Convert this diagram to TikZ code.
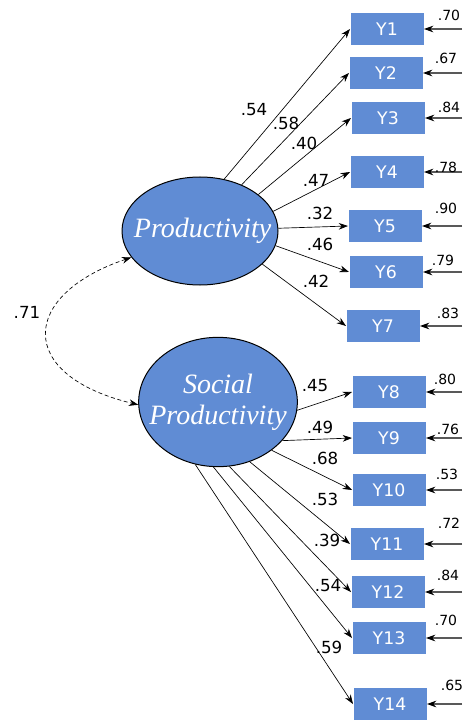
\documentclass[tikz,border=0pt]{standalone}
\usepackage{fontspec}
\setmainfont{DejaVu Sans}
\newfontfamily\lvfont{Liberation Serif}
\usetikzlibrary{arrows.meta,shapes.geometric}

\definecolor{boxblue}{RGB}{96,140,212}

\tikzset{every picture/.style={line width=0.75pt}}
\tikzset{
  ybox/.style={draw=none,fill=boxblue,minimum width=54.75pt,minimum height=24pt,inner sep=0pt,text=white,font=\fontsize{13}{15}\selectfont},
  latent/.style={ellipse,draw=black,fill=boxblue,inner sep=0pt},
  lvtext/.style={inner sep=0pt,text=white,align=center,font=\lvfont\itshape\fontsize{21}{23.5}\selectfont},
  load/.style={line width=0.5pt,-{Stealth[length=7pt,width=5pt]}},
  err/.style={line width=0.8pt,color=black!65,-{Stealth[length=7pt,width=5pt,color=black]}},
  coef/.style={inner sep=0pt,font=\fontsize{12.5}{14}\selectfont},
  ecoef/.style={inner sep=0pt,font=\fontsize{10.5}{12}\selectfont}
}

\begin{document}
\begin{tikzpicture}[x=0.75pt,y=0.75pt,yscale=-1,xscale=1]
\useasboundingbox (0,0) rectangle (462,720);

% Latent variables
\node [latent,minimum width=117pt,minimum height=81pt] (prod) at (200,231) {};
\node [lvtext] (prodtext) at ([xshift=2pt]prod.center) {Productivity};
\node [latent,minimum width=119pt,minimum height=97pt] (soc) at (218,402) {};
\node [lvtext] (soctext) at (soc.center) {Social\\Productivity};

% Indicators
\node [ybox] (y1) at (387,29) {Y1};
\node [ybox] (y2) at (386,73) {Y2};
\node [ybox] (y3) at (388,118) {Y3};
\node [ybox] (y4) at (387,172) {Y4};
\node [ybox] (y5) at (385,226) {Y5};
\node [ybox] (y6) at (386,272) {Y6};
\node [ybox] (y7) at (383,326) {Y7};
\node [ybox] (y8) at (389,392) {Y8};
\node [ybox] (y9) at (389,438) {Y9};
\node [ybox] (y10) at (389,490) {Y10};
\node [ybox] (y11) at (387,544) {Y11};
\node [ybox] (y12) at (388,592) {Y12};
\node [ybox] (y13) at (389,638) {Y13};
\node [ybox] (y14) at (390,704) {Y14};

% Loadings
\draw [load] (prod.65) -- (y1.west);
\draw [load] (prod.48) -- (y2.west);
\draw [load] (prod.32) -- (y3.west);
\draw [load] (prod.15) -- (y4.west);
\draw [load] (prod.2) -- (y5.west);
\draw [load] (prod.-11) -- (y6.west);
\draw [load] (prod.-28) -- (y7.west);
\draw [load] (soc.-6) -- (y8.west);
\draw [load] (soc.-31) -- (y9.west);
\draw [load] (soc.-42) -- (y10.west);
\draw [load] (soc.-62) -- (y11.west);
\draw [load] (soc.-80) -- (y12.west);
\draw [load] (soc.-94) -- (y13.west);
\draw [load] (soc.-110) -- (y14.west);

% Covariance
\draw [line width=0.5pt,densely dashed,{Stealth[length=7pt,width=5pt]}-{Stealth[length=7pt,width=5pt]}] (prod.201) .. controls (20,295) and (15,375) .. (soc.182);
\node [coef] (r) at (27,312) {.71};

% Error terms
\foreach \i/\yy in {1/29,2/73,3/118,4/172,5/226,6/272,7/326,8/392,9/438,10/490,11/544,12/592,13/638,14/704}{
  \coordinate (e\i) at (462,\yy);
  \draw [err] (e\i) -- (y\i.east);
}

% Loading values
\node [coef] (l1) at (254,110) {.54};
\node [coef] (l2) at (286,123) {.58};
\node [coef] (l3) at (304,143) {.40};
\node [coef] (l4) at (316,180) {.47};
\node [coef] (l5) at (320,213) {.32};
\node [coef] (l6) at (320,244) {.46};
\node [coef] (l7) at (316,281) {.42};
\node [coef] (l8) at (315,386) {.45};
\node [coef] (l9) at (320,427) {.49};
\node [coef] (l10) at (325,458) {.68};
\node [coef] (l11) at (325,499) {.53};
\node [coef] (l12) at (327,540) {.39};
\node [coef] (l13) at (328,586) {.54};
\node [coef] (l14) at (329,647) {.59};

% Error values
\node [ecoef] (v1) at (449,15) {.70};
\node [ecoef] (v2) at (446,58) {.67};
\node [ecoef] (v3) at (449,107) {.84};
\node [ecoef] (v4) at (446,167) {.78};
\node [ecoef] (v5) at (446,208) {.90};
\node [ecoef] (v6) at (443,260) {.79};
\node [ecoef] (v7) at (448,313) {.83};
\node [ecoef] (v8) at (445,379) {.80};
\node [ecoef] (v9) at (448,429) {.76};
\node [ecoef] (v10) at (447,474) {.53};
\node [ecoef] (v11) at (449,523) {.72};
\node [ecoef] (v12) at (448,575) {.84};
\node [ecoef] (v13) at (446,620) {.70};
\node [ecoef] (v14) at (452,685) {.65};
\end{tikzpicture}
\end{document}
